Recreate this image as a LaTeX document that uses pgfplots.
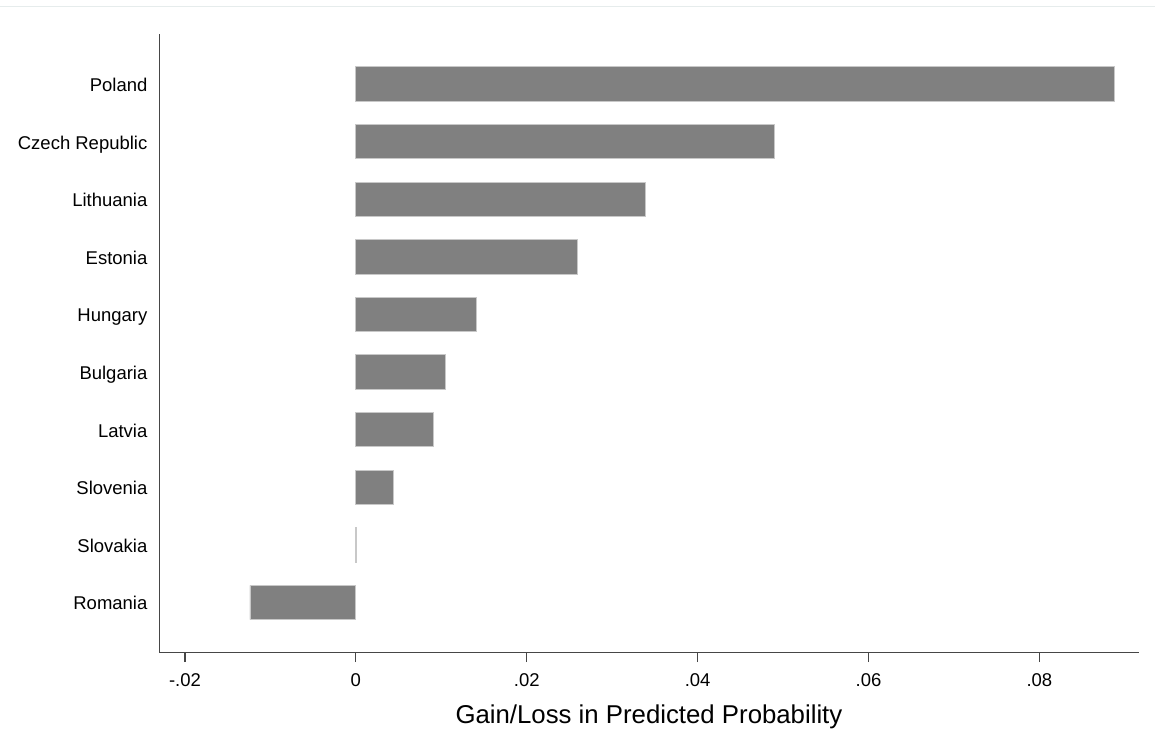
\documentclass[border=0pt]{standalone}
\usepackage{fontspec}
\setmainfont{Liberation Sans}
\usepackage{pgfplots}
\usepackage{pgfplotstable}
\pgfplotsset{compat=1.18}
\definecolor{barfill}{RGB}{128,128,128}
\definecolor{baredge}{RGB}{200,200,200}
\definecolor{axcol}{RGB}{70,70,70}
\definecolor{topline}{RGB}{230,236,236}
\pgfplotstableread{
idx value
9 0.0888
8 0.0490
7 0.0339
6 0.0259
5 0.0141
4 0.0105
3 0.0091
2 0.0044
1 0.0001
0 -0.0124
}\gaindata
\begin{document}
\begin{tikzpicture}
\path[fill=white] (0,0) rectangle (1155bp,747bp);
\draw[topline, line width=1bp] (0,740bp) -- (1155bp,740bp);
\begin{axis}[
  at={(159bp,94.3bp)}, anchor=south west,
  scale only axis, width=980bp, height=618.7bp,
  xmin=-0.0230, xmax=0.0916,
  ymin=-0.862, ymax=9.867,
  axis x line*=bottom, axis y line*=left,
  axis line style={axcol, line width=1.2bp, -},
  scaled x ticks=false,
  xtick={-0.02,0,0.02,0.04,0.06,0.08},
  xticklabels={-.02,0,.02,.04,.06,.08},
  ytick={0,...,9},
  yticklabels={Romania,Slovakia,Slovenia,Latvia,Bulgaria,Hungary,Estonia,Lithuania,Czech Republic,Poland},
  tick align=outside,
  major tick length=10bp,
  xtick style={axcol, line width=1.2bp},
  ytick style={draw=none},
  tick label style={font=\fontsize{18.5bp}{21bp}\selectfont, text=black},
  xticklabel style={yshift=-8bp},
  yticklabel style={anchor=base east, yshift=-7.5bp, xshift=1.5bp},
  xlabel={Gain/Loss in Predicted Probability},
  xlabel style={font=\fontsize{25.8bp}{28bp}\selectfont, text=black, yshift=-11bp},
  xbar, bar width=34.3bp,
  /pgf/number format/assume math mode=true,
  clip=false,
]
\addplot[fill=barfill, draw=baredge, line width=0.8bp] table[x=value, y=idx] {\gaindata};
\end{axis}
\end{tikzpicture}
\end{document}
